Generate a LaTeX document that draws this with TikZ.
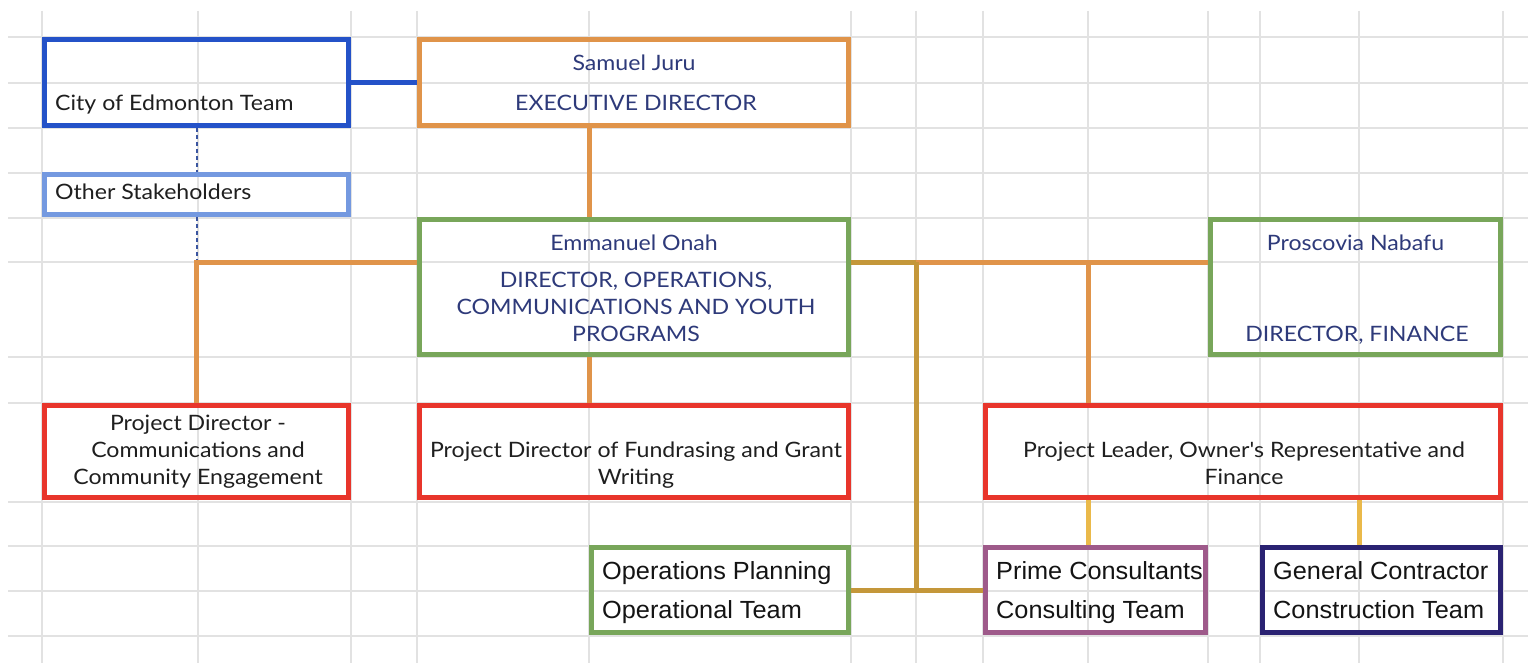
\documentclass[tikz,border=0pt]{standalone}
\usepackage{fontspec}
\setmainfont[FakeStretch=1.09]{Lato}
\newfontfamily\arialf[FakeStretch=1.02]{Liberation Sans}
\newfontfamily\latoplain[FakeStretch=1.09,Mapping=]{Lato}
\definecolor{gridc}{HTML}{E2E2E2}
\definecolor{cityblue}{HTML}{2452C8}
\definecolor{lightblue}{HTML}{7499E0}
\definecolor{orangec}{HTML}{E0944A}
\definecolor{greenc}{HTML}{78A65A}
\definecolor{redc}{HTML}{E8352B}
\definecolor{goldc}{HTML}{C4973A}
\definecolor{yellowc}{HTML}{EAB94A}
\definecolor{purplec}{HTML}{9E5A8A}
\definecolor{navyc}{HTML}{2A2272}
\definecolor{textnavy}{HTML}{2E3A7A}
\definecolor{dotc}{HTML}{3A55A0}
\tikzset{
  gridline/.style={draw=gridc, line width=1.4pt},
  box/.style={draw, line width=5pt, fill=none, inner sep=0pt, rectangle},
  conn/.style={line width=5pt},
  dotline/.style={draw=dotc, line width=2pt, dash pattern=on 4pt off 3pt},
  txt/.style={inner sep=0pt, font=\fontsize{21.2}{25}\selectfont},
  ntxt/.style={txt, text=textnavy},
  btxt/.style={txt, text=black!88},
  atxt/.style={inner sep=0pt, font=\arialf\fontsize{24.8}{28}\selectfont, text=black!92},
}
\begin{document}
\begin{tikzpicture}[x=1pt, y=-1pt]
\useasboundingbox (0,0) rectangle (1528,663);
\fill[white] (0,0) rectangle (1528,663);
% grid
\foreach \gy in {37,83,128,173,218,262,357,403,502,546,591,636}
  \draw[gridline] (8,\gy) -- (1528,\gy);
\foreach \gx in {42,198,351,417,589,851,916,983,1088,1208,1260,1359,1503}
  \draw[gridline] (\gx,11) -- (\gx,663);
% junction coordinates
\coordinate (y262) at (0,262);
\coordinate (x589) at (589,0);
\coordinate (x916) at (916,0);
\coordinate (x1088) at (1088,0);
\coordinate (x1359) at (1359,0);
\coordinate (jleft) at (196.5,262);
\coordinate (jgold) at (916,262);
% boxes
\node[box, draw=cityblue, minimum width=304pt, minimum height=86pt] (city) at (196.5,82.5) {};
\node[box, draw=lightblue, minimum width=304pt, minimum height=40pt] (other) at (196.5,194.5) {};
\node[box, draw=orangec, minimum width=429pt, minimum height=86pt] (samuel) at (634,82.5) {};
\node[box, draw=greenc, minimum width=429pt, minimum height=135pt] (emm) at (634,287) {};
\node[box, draw=greenc, minimum width=290pt, minimum height=135pt] (pros) at (1355.5,287) {};
\node[box, draw=redc, minimum width=304pt, minimum height=92pt] (pdc) at (196.5,451.5) {};
\node[box, draw=redc, minimum width=429pt, minimum height=92pt] (pdf) at (634,451.5) {};
\node[box, draw=redc, minimum width=515pt, minimum height=92pt] (plead) at (1243,451.5) {};
\node[box, draw=greenc, minimum width=257pt, minimum height=85pt] (ops) at (720,590) {};
\node[box, draw=purplec, minimum width=220pt, minimum height=85pt] (prime) at (1095.5,590) {};
\node[box, draw=navyc, minimum width=238pt, minimum height=85pt] (gen) at (1381.5,590) {};
% texts
\node[btxt, anchor=base west] (tcity) at (55,111) {City of Edmonton Team};
\node[btxt, anchor=base west] (tother) at (55,200) {Other Stakeholders};
\node[ntxt, anchor=base] (ts1) at (634,71) {Samuel Juru};
\node[ntxt, anchor=base] (ts2) at (636,111) {EXECUTIVE DIRECTOR};
\node[ntxt, anchor=base] (te1) at (634,250) {Emmanuel Onah};
\node[ntxt, anchor=base] (te2) at (636,287) {DIRECTOR, OPERATIONS,};
\node[ntxt, anchor=base] (te3) at (636,314) {COMMUNICATIONS AND YOUTH};
\node[ntxt, anchor=base] (te4) at (636,341) {PROGRAMS};
\node[ntxt, anchor=base] (tp1) at (1355.5,250) {Proscovia Nabafu};
\node[ntxt, anchor=base] (tp2) at (1357,341) {DIRECTOR, FINANCE};
\node[btxt, anchor=base] (tc1) at (198,430) {Project Director -};
\node[btxt, anchor=base] (tc2) at (198,457) {Communications and};
\node[btxt, anchor=base] (tc3) at (198,484) {Community Engagement};
\node[btxt, anchor=base] (tf1) at (636,457) {Project Director of Fundrasing and Grant};
\node[btxt, anchor=base] (tf2) at (636,484) {Writing};
\node[btxt, anchor=base] (tl1) at (1244,457) {Project Leader, Owner{\latoplain'}s Representative and};
\node[btxt, anchor=base] (tl2) at (1244,484) {Finance};
\node[atxt, anchor=base west] (to1) at (602,579) {Operations Planning};
\node[atxt, anchor=base west] (to2) at (602,618) {Operational Team};
\node[atxt, anchor=base west] (tr1) at (996,579) {Prime Consultants};
\node[atxt, anchor=base west] (tr2) at (996,618) {Consulting Team};
\node[atxt, anchor=base west] (tg1) at (1273,579) {General Contractor};
\node[atxt, anchor=base west] (tg2) at (1273,618) {Construction Team};
% connectors
\draw[conn, draw=cityblue] (city.east) -- (samuel.west);
\draw[dotline] (city.south) -- (other.north);
\draw[dotline] (other.south) -- (jleft);
\draw[conn, draw=orangec] (samuel.south -| x589) -- (emm.north -| x589);
\draw[conn, draw=orangec] (emm.west |- y262) -| (pdc.north);
\draw[conn, draw=orangec] (emm.south -| x589) -- (pdf.north -| x589);
\draw[conn, draw=orangec] (jgold) -- (pros.west |- y262);
\draw[conn, draw=orangec] (x1088 |- y262) -- (plead.north -| x1088);
\draw[conn, draw=goldc] (emm.east |- y262) -- (jgold);
\draw[conn, draw=goldc] (jgold) -- (x916 |- ops.east);
\draw[conn, draw=goldc] (ops.east) -- (prime.west);
\draw[conn, draw=yellowc] (plead.south -| x1088) -- (prime.north -| x1088);
\draw[conn, draw=yellowc] (plead.south -| x1359) -- (gen.north -| x1359);
\end{tikzpicture}
\end{document}
